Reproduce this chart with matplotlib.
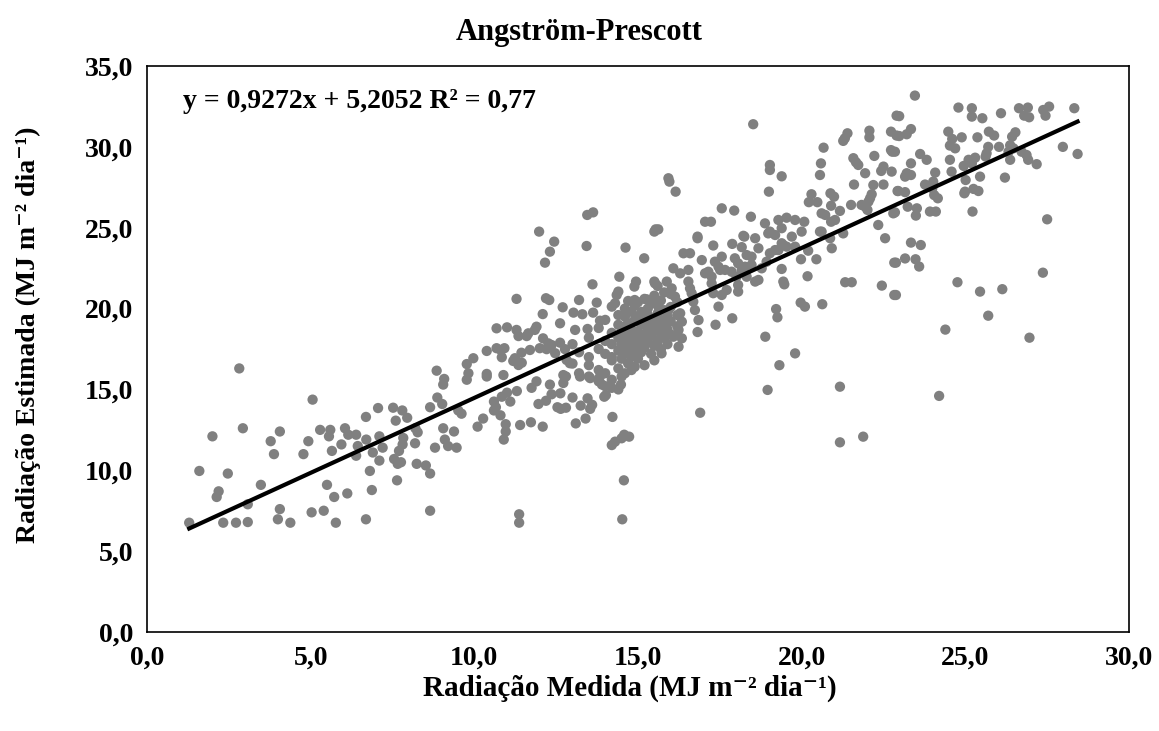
import numpy as np
import matplotlib
matplotlib.use("Agg")
import matplotlib.pyplot as plt
from matplotlib.ticker import FuncFormatter, MultipleLocator

plt.rcParams["font.family"] = ["Liberation Serif", "DejaVu Serif"]
plt.rcParams["font.weight"] = "bold"

# (medida, estimada) em MJ m-2 dia-1
pts_baixo = [
    (1.29, 6.76), (1.6, 9.96), (2.0, 12.1), (2.13, 8.35), (2.19, 8.7), (2.33, 6.76),
    (2.47, 9.8), (2.72, 6.76), (2.82, 16.3), (2.93, 12.6), (3.08, 7.9), (3.08, 6.8),
    (3.48, 9.1), (3.78, 11.8), (3.88, 11.0), (4.0, 6.97), (4.06, 7.6), (4.06, 12.4),
    (4.38, 6.76), (4.78, 11.0), (4.93, 11.8), (5.03, 7.4), (5.06, 14.37), (5.29, 12.5),
    (5.4, 7.5), (5.5, 9.1), (5.56, 12.1), (5.6, 12.5), (5.65, 11.2), (5.72, 8.35),
    (5.77, 6.76), (5.94, 11.6), (6.05, 12.6), (6.12, 8.57), (6.15, 12.2), (6.39, 12.2),
    (6.39, 10.9), (6.44, 11.5), (6.69, 13.3), (6.69, 6.97), (6.7, 11.9), (6.81, 9.96),
    (6.87, 8.78), (6.9, 11.1), (7.06, 13.85), (7.1, 12.1), (7.1, 10.6), (7.2, 11.4),
    (7.52, 13.87), (7.55, 10.7), (7.6, 13.07), (7.64, 9.38), (7.66, 10.4), (7.7, 11.2),
    (7.76, 10.5), (7.8, 13.7), (7.81, 11.6), (7.83, 12.0), (7.95, 13.25), (8.19, 11.67),
    (8.2, 12.6), (8.24, 10.4),
]

pts_10_15 = [
    (8.27, 12.35), (8.52, 10.3), (8.65, 9.8), (8.65, 7.5), (8.65, 13.9), (8.8, 11.4),
    (8.85, 16.16), (8.87, 14.5), (9.02, 14.1), (9.05, 12.6), (9.05, 15.3), (9.08, 15.65),
    (9.1, 11.9), (9.2, 11.5), (9.38, 12.4), (9.46, 11.4), (9.51, 13.7), (9.61, 13.5),
    (9.77, 15.6), (9.77, 16.57), (9.82, 16.0), (9.97, 16.93), (10.1, 12.7), (10.27, 13.2),
    (10.38, 15.8), (10.38, 15.96), (10.38, 17.38), (10.6, 14.25), (10.66, 13.9), (10.6, 13.7),
    (10.8, 13.4), (10.84, 14.55), (10.9, 11.9), (10.96, 12.85), (10.96, 12.4), (11.0, 14.8),
    (11.1, 14.25), (11.3, 14.9), (11.37, 7.28), (11.37, 6.76), (11.4, 12.8), (11.73, 12.97),
    (11.75, 15.1), (11.9, 15.5), (11.96, 14.1), (12.09, 12.7), (12.19, 14.3), (12.31, 15.3),
    (12.36, 14.7), (12.54, 13.9), (12.64, 13.8), (12.8, 13.87), (12.63, 14.76), (12.72, 15.4),
    (12.8, 15.8), (13.0, 14.5), (13.25, 14.0), (13.1, 12.9), (13.4, 13.2), (13.46, 14.45),
    (13.54, 13.8), (13.6, 14.05), (13.23, 15.8), (13.54, 15.7), (13.84, 15.8), (13.9, 15.3),
    (14.2, 15.1), (13.97, 14.55), (14.02, 14.65), (14.48, 15.3), (14.5, 15.8), (14.22, 13.3),
    (14.2, 11.56), (14.3, 11.77), (14.5, 11.98), (14.58, 12.2), (14.73, 12.08), (14.57, 9.38),
    (14.52, 6.97),
    (10.68, 18.78), (11.0, 18.84), (11.29, 20.6), (11.29, 18.68), (11.35, 18.3), (11.6, 18.3),
    (11.65, 18.47), (11.85, 18.68), (11.9, 18.88), (11.98, 24.76), (12.0, 17.55), (12.1, 18.16),
    (12.09, 19.66), (12.16, 22.84), (12.19, 20.64), (12.29, 20.53), (12.21, 17.49), (12.26, 17.85),
    (12.31, 23.52), (12.36, 17.75), (12.44, 24.14), (12.47, 17.24), (12.62, 17.89), (12.62, 19.09),
    (12.7, 20.08), (12.77, 17.49), (12.82, 16.82), (12.92, 16.62), (12.72, 15.89), (13.03, 19.75),
    (13.08, 18.68), (13.2, 20.53), (13.3, 19.65), (13.43, 23.87), (13.45, 25.79), (13.63, 25.95),
    (13.46, 18.74), (13.61, 21.5), (13.63, 19.75), (13.74, 20.37), (13.84, 19.25), (14.2, 20.12),
    (14.3, 20.33), (14.35, 20.84), (14.4, 21.05), (14.43, 21.97), (14.62, 23.77), (14.7, 20.47),
    (14.89, 21.36), (14.9, 20.53), (14.94, 21.67), (15.19, 23.11), (15.27, 20.57), (15.5, 24.76),
    (15.54, 24.9), (15.5, 21.67), (15.5, 20.53), (15.6, 21.4), (11.7, 17.44), (11.44, 17.27),
    (11.24, 16.93), (11.29, 16.72), (11.35, 16.51), (10.68, 17.55), (10.81, 17.44), (10.92, 17.55),
    (10.84, 16.99), (10.89, 15.89), (11.19, 16.76), (11.45, 16.65),
]

pts_denso = [
    (13.0, 16.6), (13.0, 17.8), (13.2, 16.0), (13.2, 17.3),
    (13.5, 17.0), (13.5, 16.5), (13.5, 18.2), (13.5, 15.8),
    (13.8, 16.2), (13.8, 17.5), (13.8, 18.8), (13.8, 15.5),
    (14.0, 17.2), (14.0, 16.0), (14.0, 18.0), (14.0, 19.3), (14.0, 15.2),
    (14.2, 16.8), (14.2, 17.8), (14.2, 18.5), (14.2, 17.0), (14.2, 15.6),
    (14.4, 16.3), (14.4, 17.4), (14.4, 18.2), (14.4, 19.0), (14.4, 19.6), (14.4, 15.0),
    (14.5, 16.9), (14.5, 17.7), (14.5, 18.6), (14.5, 17.9),
    (14.6, 16.0), (14.6, 17.2), (14.6, 18.0), (14.6, 18.9), (14.6, 19.5), (14.6, 20.0),
    (14.7, 16.6), (14.7, 17.5), (14.7, 18.3), (14.7, 19.1),
    (14.8, 17.0), (14.8, 17.9), (14.8, 18.7), (14.8, 19.8), (14.8, 16.2),
    (14.9, 16.4), (14.9, 17.4), (14.9, 18.2), (14.9, 19.3), (14.9, 20.2),
    (15.0, 16.9), (15.0, 17.8), (15.0, 18.6), (15.0, 19.5), (15.0, 20.4),
    (15.1, 17.3), (15.1, 18.1), (15.1, 19.0), (15.1, 19.8),
    (15.2, 16.5), (15.2, 17.6), (15.2, 18.4), (15.2, 19.2), (15.2, 20.6),
    (15.3, 17.9), (15.3, 18.8), (15.3, 19.6), (15.3, 20.0),
    (15.4, 17.2), (15.4, 18.3), (15.4, 19.1), (15.4, 20.3),
    (15.5, 16.8), (15.5, 17.7), (15.5, 18.6), (15.5, 19.4), (15.5, 20.8),
    (15.6, 18.0), (15.6, 19.0), (15.6, 19.7),
    (15.7, 17.5), (15.7, 18.5), (15.7, 19.3), (15.7, 20.5),
    (15.8, 18.2), (15.8, 19.0), (15.8, 19.9), (15.8, 21.0),
    (15.9, 17.8), (15.9, 18.7), (15.9, 19.5),
    (16.0, 18.4), (16.0, 19.2), (16.0, 20.1), (16.0, 20.9),
    (16.2, 18.9), (16.2, 19.6), (16.2, 20.4),
]

pts_15_20 = [
    (15.52, 21.56), (15.52, 20.53), (15.62, 20.12), (15.52, 18.88), (15.62, 18.06), (15.72, 17.23),
    (15.88, 21.67), (16.03, 21.25), (16.08, 22.49), (16.29, 22.18), (16.13, 20.74), (15.93, 19.91),
    (16.29, 19.71), (16.34, 19.19), (16.54, 22.39), (16.54, 21.67), (16.59, 21.25), (16.64, 20.95),
    (16.69, 20.43), (16.74, 19.91), (16.85, 19.29), (17.05, 22.18), (17.15, 22.28), (17.25, 21.97),
    (17.25, 21.56), (17.35, 22.9), (17.46, 22.59), (17.56, 23.21), (17.66, 22.39), (17.71, 21.15),
    (17.56, 20.84), (17.46, 20.12), (17.3, 20.95), (17.96, 23.11), (18.06, 22.8), (18.01, 21.97),
    (18.06, 21.46), (18.06, 21.05), (18.27, 22.59), (18.32, 21.97), (18.47, 23.21), (18.58, 21.67),
    (18.68, 21.77), (18.47, 22.7), (18.78, 22.49), (18.93, 22.9), (19.03, 23.42), (19.19, 23.62),
    (19.39, 24.04), (19.54, 23.83), (16.24, 18.68), (16.08, 18.26), (16.34, 18.16), (16.24, 17.64),
    (16.39, 23.42), (16.59, 23.42), (16.95, 23.0), (17.51, 22.39), (17.86, 22.28), (18.17, 22.39),
    (18.32, 23.31),
    (16.82, 24.35), (17.3, 23.9), (17.88, 24.0), (18.17, 23.8), (18.25, 24.45), (18.58, 24.35),
    (18.68, 23.73), (18.98, 24.65), (19.19, 24.55), (19.7, 24.45), (20.56, 24.76), (20.87, 24.35),
    (21.27, 24.65), (20.92, 23.73), (22.55, 24.35), (22.83, 22.84), (22.45, 21.42), (22.83, 20.84),
    (21.33, 21.63), (21.53, 21.63), (20.18, 22.0), (20.45, 23.05), (19.98, 23.05), (20.2, 23.58),
    (19.8, 23.83), (19.44, 23.93), (19.29, 23.62), (19.39, 22.45), (19.44, 21.67), (19.47, 21.5),
    (19.97, 20.37), (20.1, 20.12), (20.63, 20.27), (19.22, 19.97), (19.26, 19.46), (18.89, 18.26),
    (19.8, 17.23), (19.32, 16.5), (17.88, 19.4), (17.37, 19.0), (16.82, 18.55),
    (16.9, 13.56), (18.96, 14.97), (21.17, 15.17), (21.17, 11.73), (21.88, 12.08), (24.2, 14.6),
]

pts_alto = [
    (15.93, 28.06), (15.96, 27.85), (16.15, 27.23), (18.52, 31.4), (19.03, 28.88), (19.03, 28.57),
    (19.39, 28.18), (19.0, 27.23), (17.56, 26.2), (17.94, 26.06), (18.45, 25.68), (17.05, 25.37),
    (17.23, 25.37), (18.88, 25.27), (19.29, 25.48), (19.54, 25.62), (19.8, 25.48), (20.08, 25.37),
    (15.62, 24.9), (16.82, 24.45), (18.22, 24.5), (19.03, 24.76), (19.39, 24.97), (20.0, 24.76),
    (20.67, 29.95), (20.59, 28.98), (20.56, 28.26), (20.3, 27.07), (20.22, 26.58), (20.48, 26.58),
    (20.88, 27.13), (20.99, 26.92), (20.9, 26.36), (21.17, 26.04), (20.61, 25.89), (20.72, 25.79),
    (20.9, 25.37), (21.02, 25.48), (20.61, 24.76), (21.4, 30.84), (21.32, 30.53), (21.27, 30.37),
    (22.07, 31.0), (22.07, 30.59), (22.73, 30.94), (22.9, 30.7), (22.9, 31.93), (22.73, 29.8),
    (22.77, 29.7), (21.58, 29.3), (21.66, 29.05), (21.73, 28.88), (22.22, 29.44), (21.94, 28.37),
    (22.5, 28.78), (22.43, 28.51), (22.75, 28.47), (21.6, 27.67), (22.19, 27.64), (22.5, 27.67),
    (22.93, 27.27), (22.14, 27.07), (22.09, 26.82), (22.04, 26.61), (21.94, 26.3), (21.83, 26.41),
    (21.51, 26.41), (22.01, 26.1), (22.8, 25.89), (22.34, 25.17),
]

pts_direita = [
    (23.46, 33.17), (24.79, 32.43), (25.2, 32.39), (25.2, 31.87), (25.52, 31.77), (26.09, 32.08),
    (26.64, 32.39), (26.91, 32.43), (26.8, 31.93), (26.95, 31.83), (27.38, 32.28), (27.56, 32.49),
    (27.45, 31.93), (28.33, 32.39), (22.98, 31.9), (22.98, 30.67), (23.21, 30.78), (23.34, 31.1),
    (24.48, 30.94), (24.6, 30.49), (24.53, 30.08), (24.69, 29.91), (24.89, 30.59), (25.37, 30.59),
    (25.72, 30.94), (25.88, 30.7), (26.53, 30.9), (26.43, 30.63), (25.7, 30.0), (25.65, 29.6),
    (25.62, 29.4), (26.03, 30.0), (26.37, 30.1), (26.47, 29.91), (26.32, 29.7), (26.72, 29.7),
    (26.87, 29.5), (26.92, 29.2), (27.18, 28.93), (27.98, 30.0), (28.43, 29.56), (26.37, 29.2),
    (23.62, 29.56), (23.82, 29.2), (23.34, 28.98), (22.85, 29.7), (24.53, 29.2), (25.1, 29.2),
    (25.3, 29.33), (25.2, 28.98), (24.95, 28.82), (23.21, 28.37), (23.34, 28.26), (23.16, 28.16),
    (24.08, 28.41), (24.58, 28.47), (23.77, 27.67), (24.02, 27.85), (23.99, 27.44), (25.01, 27.95),
    (25.45, 28.16), (24.99, 27.23), (26.21, 28.1), (22.95, 27.27), (23.16, 27.2), (24.05, 27.02),
    (24.16, 26.82), (24.97, 27.13), (25.25, 27.4), (25.4, 27.27), (23.24, 26.3), (23.52, 26.2),
    (23.49, 25.75), (23.92, 26.0), (24.1, 26.0), (25.22, 26.0), (27.5, 25.52), (22.85, 25.95),
    (23.34, 24.08), (23.64, 23.93), (23.16, 23.1), (23.48, 23.05), (23.59, 22.6), (22.88, 22.84),
    (22.88, 20.84), (24.76, 21.63), (25.45, 21.05), (26.13, 21.2), (27.37, 22.22), (25.7, 19.56),
    (24.39, 18.7), (26.96, 18.2),
]

inclinacao = 0.9272
intercepto = 5.2052
r2 = 0.77

grupos = [pts_baixo, pts_10_15, pts_denso, pts_15_20, pts_alto, pts_direita]
pts = np.array([p for g in grupos for p in g])
x = pts[:, 0]
y = pts[:, 1]

fig = plt.figure(figsize=(11.59, 7.31), dpi=100)
ax = fig.add_axes([0.1268, 0.1354, 0.8473, 0.7743])

ax.scatter(x, y, s=55, color="#808080", edgecolors="none", zorder=2)
xl = np.array([x.min(), x.max()])
ax.plot(xl, inclinacao * xl + intercepto, color="black", lw=3, zorder=3)

ax.set_xlim(0, 30)
ax.set_ylim(0, 35)
ax.xaxis.set_major_locator(MultipleLocator(5))
ax.yaxis.set_major_locator(MultipleLocator(5))
fmt = FuncFormatter(lambda v, p: f"{v:.1f}".replace(".", ","))
ax.xaxis.set_major_formatter(fmt)
ax.yaxis.set_major_formatter(fmt)
ax.tick_params(length=0, labelsize=20, pad=10)
for lab in ax.get_xticklabels() + ax.get_yticklabels():
    lab.set_fontweight("bold")
for s in ax.spines.values():
    s.set_linewidth(1.2)

fig.text(0.5436, 0.0588, "Radiação Medida (MJ m⁻² dia⁻¹)", fontsize=21,
         fontweight="bold", ha="center", va="center")
fig.text(0.0242, 0.5417, "Radiação Estimada (MJ m⁻² dia⁻¹)", fontsize=20,
         fontweight="bold", ha="center", va="center", rotation=90)
fig.text(0.5, 0.955, "Angström-Prescott", fontsize=22, fontweight="bold",
         ha="center", va="center")

eq = f"y = {inclinacao:.4f}x + {intercepto:.4f} R² = {r2:.2f}".replace(".", ",")
ax.text(0.037, 0.938, eq, transform=ax.transAxes, fontsize=20, fontweight="bold", va="center")

fig.savefig("out.png", dpi=100)
